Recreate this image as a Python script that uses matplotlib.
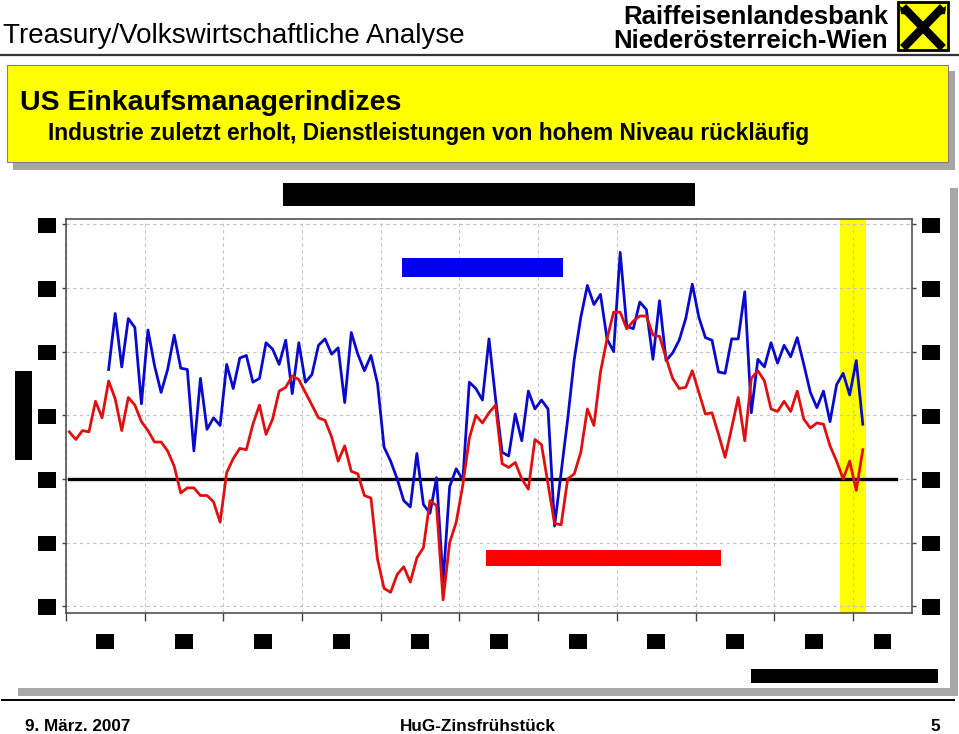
import matplotlib
matplotlib.use("Agg")
import matplotlib.pyplot as plt
from matplotlib.patches import Rectangle, Polygon
import numpy as np

# ISM Einkaufsmanagerindizes, monatlich ab Jan 1997 bis Feb 2007
first_year = 1997
ism_industrie = [
    53.7, 53.1, 53.8, 53.7, 56.1, 54.8, 57.7, 56.3, 53.8, 56.4, 55.8, 54.5,
    53.8, 52.9, 52.9, 52.2, 51.0, 48.9, 49.3, 49.3, 48.7, 48.7, 48.2, 46.6,
    50.5, 51.6, 52.4, 52.3, 54.3, 55.8, 53.5, 54.7, 56.9, 57.2, 58.1, 57.8,
    56.8, 55.8, 54.8, 54.6, 53.3, 51.4, 52.6, 50.6, 50.4, 48.7, 48.5, 43.7,
    41.4, 41.1, 42.5, 43.1, 41.9, 43.8, 44.6, 48.3, 47.9, 40.5, 45.0, 46.6,
    49.5, 53.2, 55.0, 54.4, 55.2, 55.8, 51.2, 50.9, 51.3, 50.0, 49.2, 53.1,
    52.7, 49.6, 46.5, 46.4, 50.0, 50.4, 52.1, 55.5, 54.2, 58.4, 61.0, 63.1,
    63.1, 61.8, 62.4, 62.8, 62.8, 61.3, 61.2, 59.5, 57.9, 57.1, 57.2, 58.5,
    56.8, 55.1, 55.2, 53.5, 51.7, 54.0, 56.4, 53.0, 57.9, 58.5, 57.7, 55.5,
    55.3, 56.1, 55.3, 56.9, 54.7, 54.0, 54.4, 54.3, 52.6, 51.4, 50.0, 51.4,
    49.1, 52.3,
]
# Dienstleistungen erst ab Jul 1997
dienst_start = 6
ism_dienst = [
    58.6, 63.0, 58.8, 62.6, 61.9, 55.9,
    61.7, 58.9, 56.8, 58.6, 61.3, 58.7, 58.6, 52.2, 57.9, 53.9, 54.8, 54.2,
    59.0, 57.1, 59.5, 59.7, 57.6, 57.9, 60.7, 60.2, 59.0, 60.9, 56.7, 60.7,
    57.6, 58.2, 60.5, 61.0, 59.8, 60.3, 56.0, 61.5, 59.8, 58.5, 59.7, 57.5,
    52.5, 51.4, 50.0, 48.3, 47.8, 52.0, 48.0, 47.3, 50.1, 41.9, 49.4, 50.8,
    49.9, 57.6, 57.1, 56.2, 61.0, 56.3, 52.1, 51.8, 55.1, 53.0, 56.9, 55.5,
    56.2, 55.5, 46.3, 50.5, 54.7, 59.4, 62.7, 65.2, 63.7, 64.5, 61.0, 60.0,
    67.8, 62.0, 61.8, 63.9, 63.3, 59.4, 64.0, 59.3, 59.9, 60.9, 62.6, 65.3,
    62.7, 61.1, 60.9, 58.4, 58.3, 61.0, 61.0, 64.7, 55.2, 59.4, 58.8, 60.7,
    59.1, 60.5, 59.6, 61.1, 59.0, 56.8, 55.6, 56.9, 54.5, 57.4, 58.3, 56.6,
    59.3, 54.3,
]
schwelle = 50
schwelle_months = 127
y_ticks = [40, 45, 50, 55, 60, 65, 70]
year_labels = ["97", "98", "99", "00", "01", "02", "03", "04", "05", "06", "07"]

plt.rcParams['font.family'] = ['Liberation Sans', 'DejaVu Sans']

W, H = 959, 734
fig = plt.figure(figsize=(W / 100, H / 100), dpi=100)


def fx(x):
    return x / W


def fy(y):
    return 1 - y / H


def box(x0, y0, x1, y1, color, z=-5, **kw):
    fig.patches.append(Rectangle((fx(x0), fy(y1)), (x1 - x0) / W, (y1 - y0) / H,
                                 transform=fig.transFigure, facecolor=color,
                                 zorder=z, **kw))


def redact(x0, y0, x1, y1, color, label, rot=0, size=7):
    box(x0, y0, x1, y1, color, z=10, edgecolor='none')
    fig.text(fx((x0 + x1) / 2), fy((y0 + y1) / 2), label, color=color,
             ha='center', va='center', rotation=rot, fontsize=size, zorder=11)


# header
fig.text(fx(3), fy(43), "Treasury/Volkswirtschaftliche Analyse", fontsize=20,
         va='baseline', ha='left')
fig.text(fx(888), fy(24), "Raiffeisenlandesbank", fontsize=18.5, weight='bold',
         ha='right', va='baseline')
fig.text(fx(888), fy(48), "Niederösterreich-Wien", fontsize=18.5, weight='bold',
         ha='right', va='baseline')
box(898, 2, 948, 50, '#FFFF00', z=2, edgecolor='black', linewidth=2)
fig.lines.append(plt.Line2D([fx(906), fx(940)], [fy(45), fy(10)], color='black',
                            lw=6, transform=fig.transFigure, zorder=3))
fig.lines.append(plt.Line2D([fx(940), fx(906)], [fy(45), fy(10)], color='black',
                            lw=6, transform=fig.transFigure, zorder=3))
for sx in (1, -1):
    cx = 923 + sx * 17
    fig.patches.append(Polygon([(fx(cx), fy(10)), (fx(cx + sx * 6), fy(6)),
                                (fx(cx + sx * 5), fy(14)), (fx(cx - sx * 4), fy(15))],
                               closed=True, facecolor='black', transform=fig.transFigure,
                               zorder=3))
fig.lines.append(plt.Line2D([0, 1], [fy(55), fy(55)], color='#333333', lw=1.6,
                            transform=fig.transFigure))

# title box
box(13, 71, 955, 170, '#A6A6A6')
box(7, 65, 948, 162, '#FFFF00', edgecolor='#808080', linewidth=0.8)
fig.text(fx(20), fy(110), "US Einkaufsmanagerindizes", fontsize=20.5, weight='bold',
         va='baseline')
fig.text(fx(48), fy(140),
         "Industrie zuletzt erholt, Dienstleistungen von hohem Niveau rückläufig",
         fontsize=16.4, weight='bold', va='baseline')

# chart panel
box(18, 188, 958, 696, '#A8A8A8')
box(10, 182, 950, 688, 'white')

ax = fig.add_axes([fx(66), fy(613), (912 - 66) / W, (613 - 219) / H])
x = first_year + (np.arange(len(ism_industrie)) + 0.5) / 12
x_d = x[dienst_start:dienst_start + len(ism_dienst)]
x_s = first_year + (np.array([0, schwelle_months - 1]) + 0.5) / 12

ax.axvspan(2006.83, 2007.165, color='#FFFF00', zorder=0.2, lw=0)
ax.plot(x_s, [schwelle, schwelle], color='black', lw=2.4, zorder=1.5)
ax.plot(x_d, ism_dienst, color='#0A0ACD', lw=2.0, zorder=2)
ax.plot(x, ism_industrie, color='#E01010', lw=2.0, zorder=2.1)

ax.set_xlim(first_year, first_year + 10.75)
ax.set_ylim(39.47, 70.42)
ax.set_axisbelow(True)
ax.set_xticks(range(first_year, first_year + 11))
ax.set_xticklabels([])
mid = [first_year + k + 0.5 for k in range(10)] + [first_year + 10.375]
ax.set_xticks(mid, minor=True)
ax.set_xticklabels(year_labels, minor=True)
ax.set_yticks(y_ticks)
ax.set_yticklabels([str(v) for v in y_ticks])
ax.grid(True, which='major', linestyle=(0, (3, 3)), color='#C4C4C4', lw=0.8)
ax.tick_params(axis='x', which='major', length=6, width=1, color='#444444')
ax.tick_params(axis='x', which='minor', length=0, pad=17, labelsize=8)
ax.tick_params(axis='y', length=3, width=1, color='#444444', right=True,
               labelright=True, labelsize=8, pad=6)
for sp in ax.spines.values():
    sp.set_color('#444444')
    sp.set_linewidth(1.1)

lbl_box = dict(boxstyle='square,pad=0.25', facecolor='black', edgecolor='none')
for t in ax.xaxis.get_minor_ticks():
    t.label1.set_bbox(lbl_box)
for t in ax.yaxis.get_major_ticks():
    t.label1.set_bbox(lbl_box)
    t.label2.set_bbox(lbl_box)

# verdeckte Beschriftungen
redact(283, 183, 695, 206, 'black', "ISM-Einkaufsmanagerindizes USA", size=12)
redact(402, 258, 563, 277, '#0000F0', "ISM Dienstleistungen", size=10)
redact(486, 550, 721, 566, '#FF0000', "ISM verarbeitendes Gewerbe", size=9)
redact(15, 371, 32, 460, 'black', "Index", rot=90, size=9)
redact(751, 669, 938, 683, 'black', "Quelle: Bloomberg", size=8)

# footer
fig.lines.append(plt.Line2D([fx(2), fx(954)], [fy(700), fy(700)], color='black',
                            lw=1.4, transform=fig.transFigure))
fig.text(fx(25), fy(731), "9. März. 2007", fontsize=12.3, weight='bold', va='baseline')
fig.text(fx(478), fy(731), "HuG-Zinsfrühstück", fontsize=12.3, weight='bold',
         va='baseline', ha='center')
fig.text(fx(935), fy(731), "5", fontsize=12.3, weight='bold', va='baseline',
         ha='center')

fig.savefig("out.png", dpi=100)
